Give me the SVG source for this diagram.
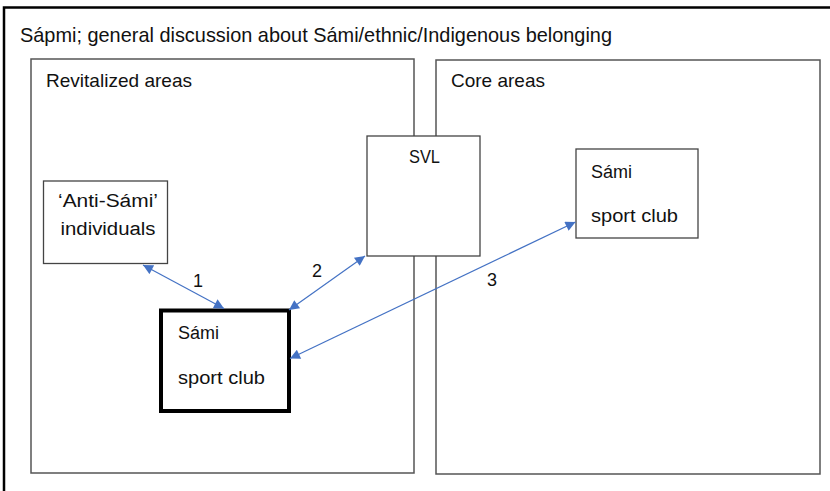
<svg xmlns="http://www.w3.org/2000/svg" width="830" height="491" viewBox="0 0 830 491">
<defs>
<style>
.t{font-family:"Liberation Sans",Arial,sans-serif;fill:#111;}
.area{fill:none;stroke:#555;stroke-width:1.5;}
.box{fill:#fff;stroke:#444;stroke-width:1.3;}
.conn{stroke:#4472C4;stroke-width:1.2;fill:none;marker-start:url(#ah);marker-end:url(#ah);}
</style>
<marker id="ah" viewBox="0 0 10 10" refX="10" refY="5" markerWidth="12" markerHeight="10" markerUnits="userSpaceOnUse" orient="auto-start-reverse">
<path d="M0,0 L10,5 L0,10 z" fill="#4472C4"/>
</marker>
</defs>
<rect width="830" height="491" fill="#fff"/>
<g id="sapmi">
<path d="M4,491 V7.5 H830" fill="none" stroke="#000" stroke-width="2.5"/>
<text class="t" x="20" y="42" font-size="21" textLength="592" lengthAdjust="spacingAndGlyphs">Sápmi; general discussion about Sámi/ethnic/Indigenous belonging</text>
</g>
<g id="revitalized">
<rect class="area" x="31" y="59" width="383" height="414"/>
<text class="t" x="46" y="87" font-size="19" textLength="146" lengthAdjust="spacingAndGlyphs">Revitalized areas</text>
</g>
<g id="core">
<rect class="area" x="436" y="60" width="384" height="414"/>
<text class="t" x="451" y="87" font-size="19" textLength="94" lengthAdjust="spacingAndGlyphs">Core areas</text>
</g>
<g id="svl">
<rect class="box" x="367" y="136" width="113" height="120"/>
<text class="t" x="424.5" y="163" font-size="18" text-anchor="middle" textLength="31" lengthAdjust="spacingAndGlyphs">SVL</text>
</g>
<g id="anti">
<rect class="box" x="43.5" y="181" width="124" height="82.5"/>
<text class="t" x="108" y="207" font-size="18" text-anchor="middle" textLength="100" lengthAdjust="spacingAndGlyphs">‘Anti-Sámi’</text>
<text class="t" x="108" y="235" font-size="18" text-anchor="middle" textLength="95" lengthAdjust="spacingAndGlyphs">individuals</text>
</g>
<g id="club-core">
<rect class="box" x="576" y="149" width="122" height="89"/>
<text class="t" x="591" y="178" font-size="18" textLength="41" lengthAdjust="spacingAndGlyphs">Sámi</text>
<text class="t" x="591" y="222" font-size="18" textLength="87" lengthAdjust="spacingAndGlyphs">sport club</text>
</g>
<g id="club-revitalized">
<rect x="161" y="310.5" width="128" height="100.5" fill="#fff" stroke="#000" stroke-width="4"/>
<text class="t" x="178" y="339" font-size="18" textLength="41" lengthAdjust="spacingAndGlyphs">Sámi</text>
<text class="t" x="178" y="384" font-size="18" textLength="87" lengthAdjust="spacingAndGlyphs">sport club</text>
</g>
<g id="connectors">
<line class="conn" x1="143" y1="265" x2="224" y2="308.5"/>
<line class="conn" x1="289" y1="310" x2="365" y2="256"/>
<line class="conn" x1="290" y1="358.5" x2="575.5" y2="222"/>
<text class="t" x="198" y="287" font-size="18" text-anchor="middle">1</text>
<text class="t" x="317" y="277" font-size="18" text-anchor="middle">2</text>
<text class="t" x="492" y="286" font-size="18" text-anchor="middle">3</text>
</g>
</svg>
